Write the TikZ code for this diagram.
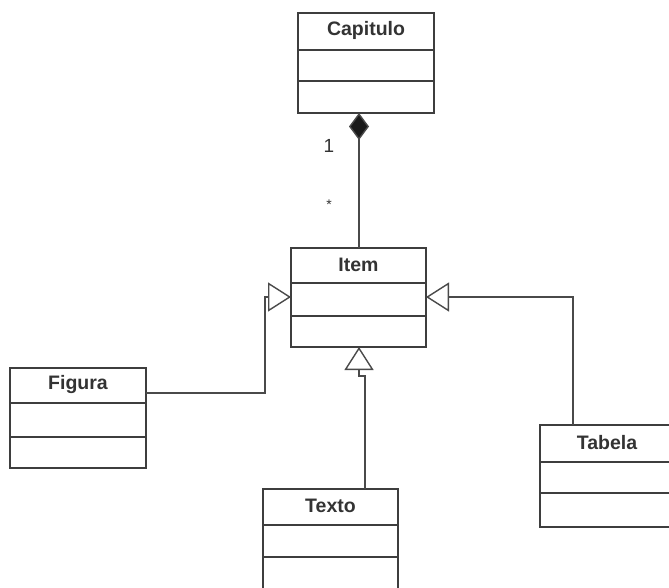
\documentclass[tikz,border=0pt]{standalone}
\usepackage{fontspec}
\setmainfont{Liberation Sans}
\usetikzlibrary{arrows.meta,calc}
\definecolor{ink}{HTML}{3E3E3E}
\definecolor{wire}{HTML}{4A4A4A}
\definecolor{label}{HTML}{333333}

\tikzset{
  classbox/.style={draw=ink, line width=1.6pt, fill=white, inner sep=0pt, outer sep=0pt},
  boxline/.style={draw=ink, line width=1.6pt},
  classname/.style={text=label, font=\bfseries\fontsize{19.5}{22}\selectfont, inner sep=0pt},
  mult/.style={text=label, font=\fontsize{19}{22}\selectfont, inner sep=0pt},
  comp/.style={draw=wire, line width=1.4pt, -{Diamond[length=27pt,width=20pt,fill=black!90]}},
  gen/.style={draw=wire, line width=1.4pt, -{Triangle[open,length=23pt,width=29pt,fill=white]}},
}

% class box: name, left, right, top, first rule, second rule, bottom, title
\newcommand\umlclass[8]{%
  \node[classbox, minimum width={#3-#2}, minimum height={#7-#4}] (#1)
    at ({(#2+#3)/2},{(#4+#7)/2}) {};
  \draw[boxline] (#2,#5) -- (#3,#5) (#2,#6) -- (#3,#6);
  \node[classname] (#1-title) at ({(#2+#3)/2},{(#4+#5)/2-1}) {#8};
}

\begin{document}
\begin{tikzpicture}[x=1pt,y=-1pt]
  \useasboundingbox (0,0) rectangle (669,587);
  \clip (0,0) rectangle (669,587);
  \fill[white] (0,0) rectangle (669,587);

  \umlclass{cap}{298}{434}{13}{50}{81}{113}{Capitulo}
  \umlclass{item}{291}{426}{248}{283}{316}{347}{Item}
  \umlclass{fig}{10}{146}{368}{403}{437}{468}{Figura}
  \umlclass{tab}{540}{674}{425}{462}{493}{527}{Tabela}
  \umlclass{tex}{263}{398}{489}{525}{557}{620}{Texto}

  % composition Item -> Capitulo
  \draw[comp] ($(item.north west)+(68,0)$) -- ($(cap.south west)+(61,0)$);
  \node[mult] (one) at (329,146) {1};
  \node[mult, font=\fontsize{14}{16}\selectfont] (many) at (329,205) {*};

  % generalizations
  \coordinate (lbend) at (265,393);
  \draw[gen] ($(fig.north east)+(0,25)$) -- (lbend) |- ($(item.north west)+(0,49)$);
  \draw[gen] ($(tab.north west)+(33,0)$) |- ($(item.north east)+(0,49)$);
  \draw[gen] ($(tex.north west)+(102,0)$) -- ++(0,-113) -- ++(-6,0)
    -- ($(item.south west)+(68,0)$);
\end{tikzpicture}
\end{document}
